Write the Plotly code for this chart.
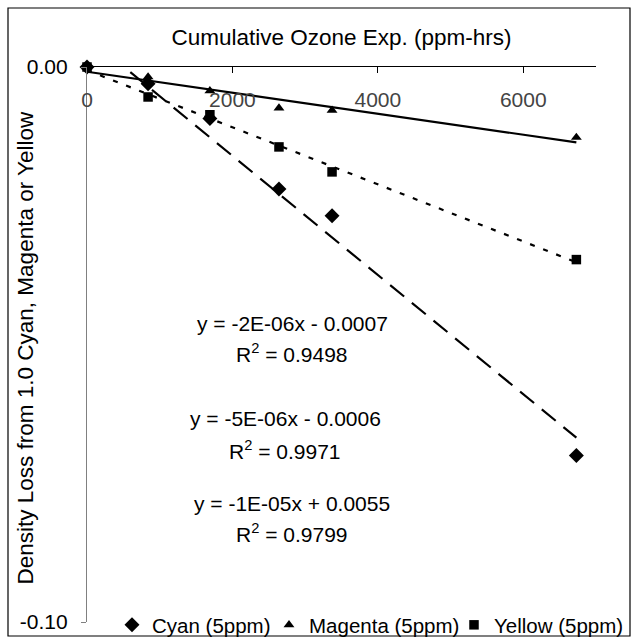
import numpy as np
import plotly.graph_objects as go

# ---- data ----
exposure = [0, 840, 1690, 2640, 3370, 6730]          # Cumulative ozone exposure, ppm-hrs
cyan = [0.0, -0.0030, -0.0093, -0.0220, -0.0268, -0.0700]
magenta = [0.0, -0.0018, -0.0043, -0.0074, -0.0078, -0.0127]
yellow = [0.0, -0.0054, -0.0086, -0.0144, -0.0189, -0.0347]

series_names = ["Cyan (5ppm)", "Magenta (5ppm)", "Yellow (5ppm)"]
equations = ["y = -2E-06x - 0.0007", "y = -5E-06x - 0.0006", "y = -1E-05x + 0.0055"]
r_squared = ["0.9498", "0.9971", "0.9799"]
x_ticks = [0, 2000, 4000, 6000]
y_ticks = [-0.10, 0.00]
y_tick_text = ["-0.10", "0.00"]
x_title = "Cumulative Ozone Exp. (ppm-hrs)"
y_title = "Density Loss from 1.0 Cyan, Magenta or Yellow"

# ---- layout geometry ----
W, H = 632, 638
L, R, T, B = 87, 36, 67, 16
PW, PH = W - L - R, H - T - B


def px_x(px):
    return (px - L) / PW


def px_y(py):
    return (H - B - py) / PH


FONT = "Liberation Sans, Arial, sans-serif"

fig = go.Figure()

styles = [
    ("diamond", 11.5, "18px,10px"),   # cyan
    ("triangle-up", 9.5, "solid"),    # magenta
    ("square", 9.5, "5px,9px"),       # yellow
]
legend_ids = ["legend", "legend2", "legend3"]
legend_text_x = [152, 309, 494]

for ys, (sym, size, dash) in zip([cyan, magenta, yellow], styles):
    x = np.array(exposure, dtype=float)
    y = np.array(ys, dtype=float)
    slope, icpt = np.polyfit(x, y, 1)
    xl = np.array([x.min(), x.max()])
    fig.add_trace(go.Scatter(
        x=xl, y=slope * xl + icpt, mode="lines", showlegend=False, hoverinfo="skip",
        line=dict(color="black", width=2.2, dash=dash),
    ))

for name, ys, (sym, size, dash), lg in zip(series_names, [cyan, magenta, yellow], styles, legend_ids):
    fig.add_trace(go.Scatter(
        x=exposure, y=ys, mode="markers", name=name, cliponaxis=False, legend=lg,
        marker=dict(symbol=sym, size=size, color="black", line=dict(width=0)),
    ))

# equation annotations (text positions in pixels converted to paper)
ann_pos = [(292, 323, 353), (285, 418, 450), (292, 503, 533)]
annotations = []
for eq, r2, (cx, ey, ry) in zip(equations, r_squared, ann_pos):
    annotations.append(dict(x=px_x(cx), y=px_y(ey), xref="paper", yref="paper", text=eq,
                            showarrow=False, font=dict(family=FONT, size=21, color="black"),
                            xanchor="center", yanchor="middle"))
    annotations.append(dict(x=px_x(cx), y=px_y(ry), xref="paper", yref="paper",
                            text="R<sup>2</sup> = " + r2,
                            showarrow=False, font=dict(family=FONT, size=21, color="black"),
                            xanchor="center", yanchor="middle"))
# vertical axis title (placed as rotated text so it can sit beside the tick labels like the original)
annotations.append(dict(x=px_x(25.5), y=px_y(348), xref="paper", yref="paper", text=y_title,
                        textangle=-90, showarrow=False,
                        font=dict(family=FONT, size=22.5, color="black"),
                        xanchor="center", yanchor="middle"))

legend_common = dict(orientation="h", yanchor="middle", xanchor="left",
                     font=dict(family=FONT, size=20.5, color="black"), itemwidth=30,
                     bgcolor="rgba(0,0,0,0)", borderwidth=0)
legends = {}
for lg, tx in zip(legend_ids, legend_text_x):
    legends[lg] = dict(legend_common, x=px_x(tx - 40), y=px_y(625))

fig.update_layout(
    width=W, height=H, autosize=False,
    margin=dict(l=L, r=R, t=T, b=B, pad=0, autoexpand=False),
    paper_bgcolor="white", plot_bgcolor="white",
    font=dict(family=FONT, size=21, color="black"),
    showlegend=True,
    annotations=annotations,
    shapes=[dict(type="rect", xref="paper", yref="paper",
                 x0=px_x(8), x1=px_x(630), y0=px_y(636), y1=px_y(8),
                 line=dict(color="black", width=1.2), layer="below")],
    xaxis=dict(
        range=[0, 7000], tickvals=x_ticks, side="top",
        ticks="inside", ticklen=6, tickcolor="black", tickwidth=1,
        showline=True, linecolor="black", linewidth=1,
        showgrid=False, zeroline=False,
        ticklabelposition="inside", ticklabeloverflow="allow", ticklabelstandoff=21,
        tickfont=dict(family=FONT, size=21),
        title=dict(text=x_title, font=dict(family=FONT, size=22.5), standoff=36),
    ),
    yaxis=dict(
        range=[-0.1, 0], tickvals=y_ticks, ticktext=y_tick_text,
        ticks="outside", ticklen=5, tickcolor="#808080", tickwidth=1,
        showline=True, linecolor="#808080", linewidth=1.3,
        showgrid=False, zeroline=False, ticklabelstandoff=9,
        tickfont=dict(family=FONT, size=21),
    ),
    **legends,
)

fig.write_html("out.html")
